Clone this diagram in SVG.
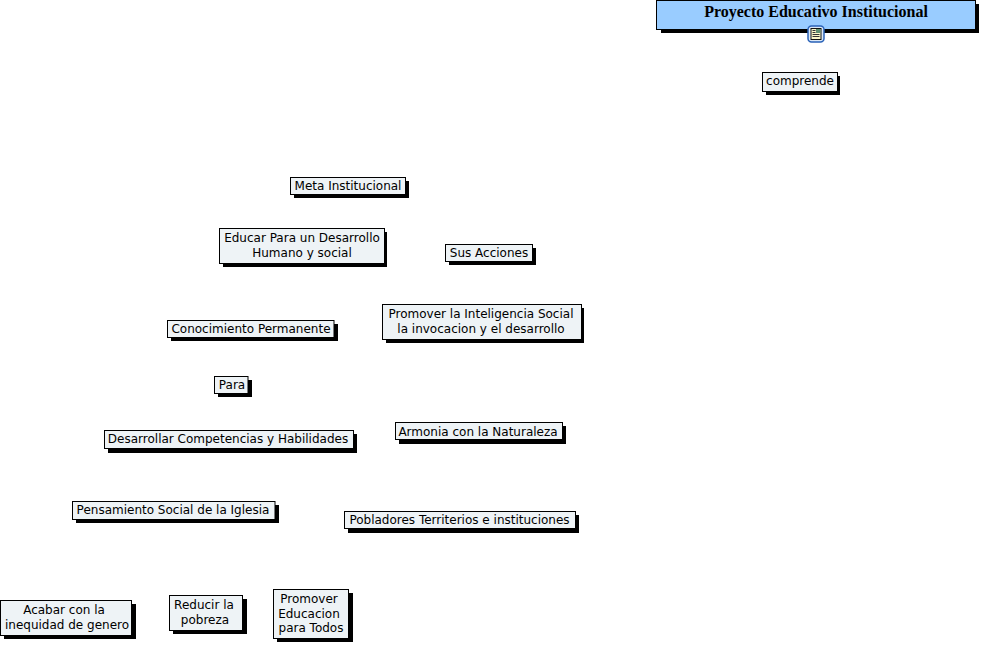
<svg xmlns="http://www.w3.org/2000/svg" width="982" height="645" viewBox="0 0 982 645">
<defs>
<style>
.b{fill:#eef3f6;stroke:#000;stroke-width:1}
.s{fill:#000}
.t{font-family:"DejaVu Sans",Verdana,sans-serif;font-size:12px;fill:#000;text-anchor:middle}
.h{font-family:"Liberation Serif",serif;font-size:16px;font-weight:bold;fill:#000;text-anchor:middle}
</style>
</defs>
<rect width="982" height="645" fill="#fff"/>
<g id="connectors"></g>
<g id="n-titulo">
<rect class="s" x="661" y="4" width="318" height="29"/>
<rect x="656.500" y="0.500" width="319" height="29" fill="#99ccff" stroke="#000"/>
<text class="h" x="816" y="17">Proyecto Educativo Institucional</text>
<g id="icono">
<rect x="808" y="26" width="16" height="16" rx="3.500" fill="#dbe8f7" stroke="#2a62b8" stroke-width="1.500"/>
<rect x="811" y="28.500" width="10" height="11" fill="#fbf6c8" stroke="#111" stroke-width="1"/>
<rect x="816" y="29" width="4.500" height="4" fill="#5f8f70"/>
<path d="M812.500 30.500h3M812.500 32.500h3M812.500 34.500h7M812.500 36.500h7" stroke="#333" stroke-width="1" fill="none"/>
</g>
</g>
<g id="n-comprende"><rect class="s" x="766" y="76" width="74" height="19"/><rect class="b" x="762.500" y="72.500" width="75" height="19"/><text class="t" x="800" y="85">comprende</text></g>
<g id="n-meta"><rect class="s" x="294" y="181" width="115" height="17"/><rect class="b" x="290.500" y="177.500" width="115" height="17"/><text class="t" x="348" y="190">Meta Institucional</text></g>
<g id="n-educar"><rect class="s" x="223" y="232" width="164" height="35"/><rect class="b" x="219.500" y="228.500" width="165" height="35"/><text class="t" x="302" y="242">Educar Para un Desarrollo</text><text class="t" x="302" y="257">Humano y social</text></g>
<g id="n-acciones"><rect class="s" x="449" y="248" width="87" height="17"/><rect class="b" x="445.500" y="244.500" width="87" height="17"/><text class="t" x="489" y="257">Sus Acciones</text></g>
<g id="n-inteligencia"><rect class="s" x="386" y="308" width="198" height="35"/><rect class="b" x="382.500" y="304.500" width="199" height="35"/><text class="t" x="481" y="318">Promover la Inteligencia Social</text><text class="t" x="481" y="333">la invocacion y el desarrollo</text></g>
<g id="n-conocimiento"><rect class="s" x="171" y="324" width="167" height="17"/><rect class="b" x="167.500" y="320.500" width="166.500" height="17"/><text class="t" x="251" y="333">Conocimiento Permanente</text></g>
<g id="n-para"><rect class="s" x="218" y="380" width="34" height="17"/><rect class="b" x="214.500" y="376.500" width="33.500" height="17"/><text class="t" x="232" y="389">Para</text></g>
<g id="n-desarrollar"><rect class="s" x="108" y="434" width="249" height="19"/><rect class="b" x="104.500" y="430.500" width="249" height="18"/><text class="t" x="228" y="443">Desarrollar Competencias y Habilidades</text></g>
<g id="n-armonia"><rect class="s" x="399" y="426" width="167" height="18"/><rect class="b" x="395.500" y="422.500" width="167" height="17"/><text class="t" x="478" y="436">Armonia con la Naturaleza</text></g>
<g id="n-pensamiento"><rect class="s" x="76" y="505" width="203" height="18"/><rect class="b" x="72.500" y="501.500" width="202.500" height="18"/><text class="t" x="173" y="514">Pensamiento Social de la Iglesia</text></g>
<g id="n-pobladores"><rect class="s" x="348" y="515" width="231" height="18"/><rect class="b" x="344.500" y="511.500" width="231" height="17"/><text class="t" x="459.500" y="524">Pobladores Territerios e instituciones</text></g>
<g id="n-acabar"><rect class="s" x="4" y="604" width="132" height="35"/><rect class="b" x="0.500" y="600.500" width="131" height="35"/><text class="t" x="64" y="614">Acabar con la</text><text class="t" x="67" y="629">inequidad de genero</text></g>
<g id="n-reducir"><rect class="s" x="173" y="599" width="74" height="35"/><rect class="b" x="169.500" y="595.500" width="73" height="35"/><text class="t" x="204" y="609">Reducir la</text><text class="t" x="205" y="624">pobreza</text></g>
<g id="n-educacion"><rect class="s" x="277" y="593" width="76" height="49"/><rect class="b" x="273.500" y="589.500" width="75" height="49"/><text class="t" x="309" y="603">Promover</text><text class="t" x="309" y="618">Educacion</text><text class="t" x="311" y="632">para Todos</text></g>
</svg>
